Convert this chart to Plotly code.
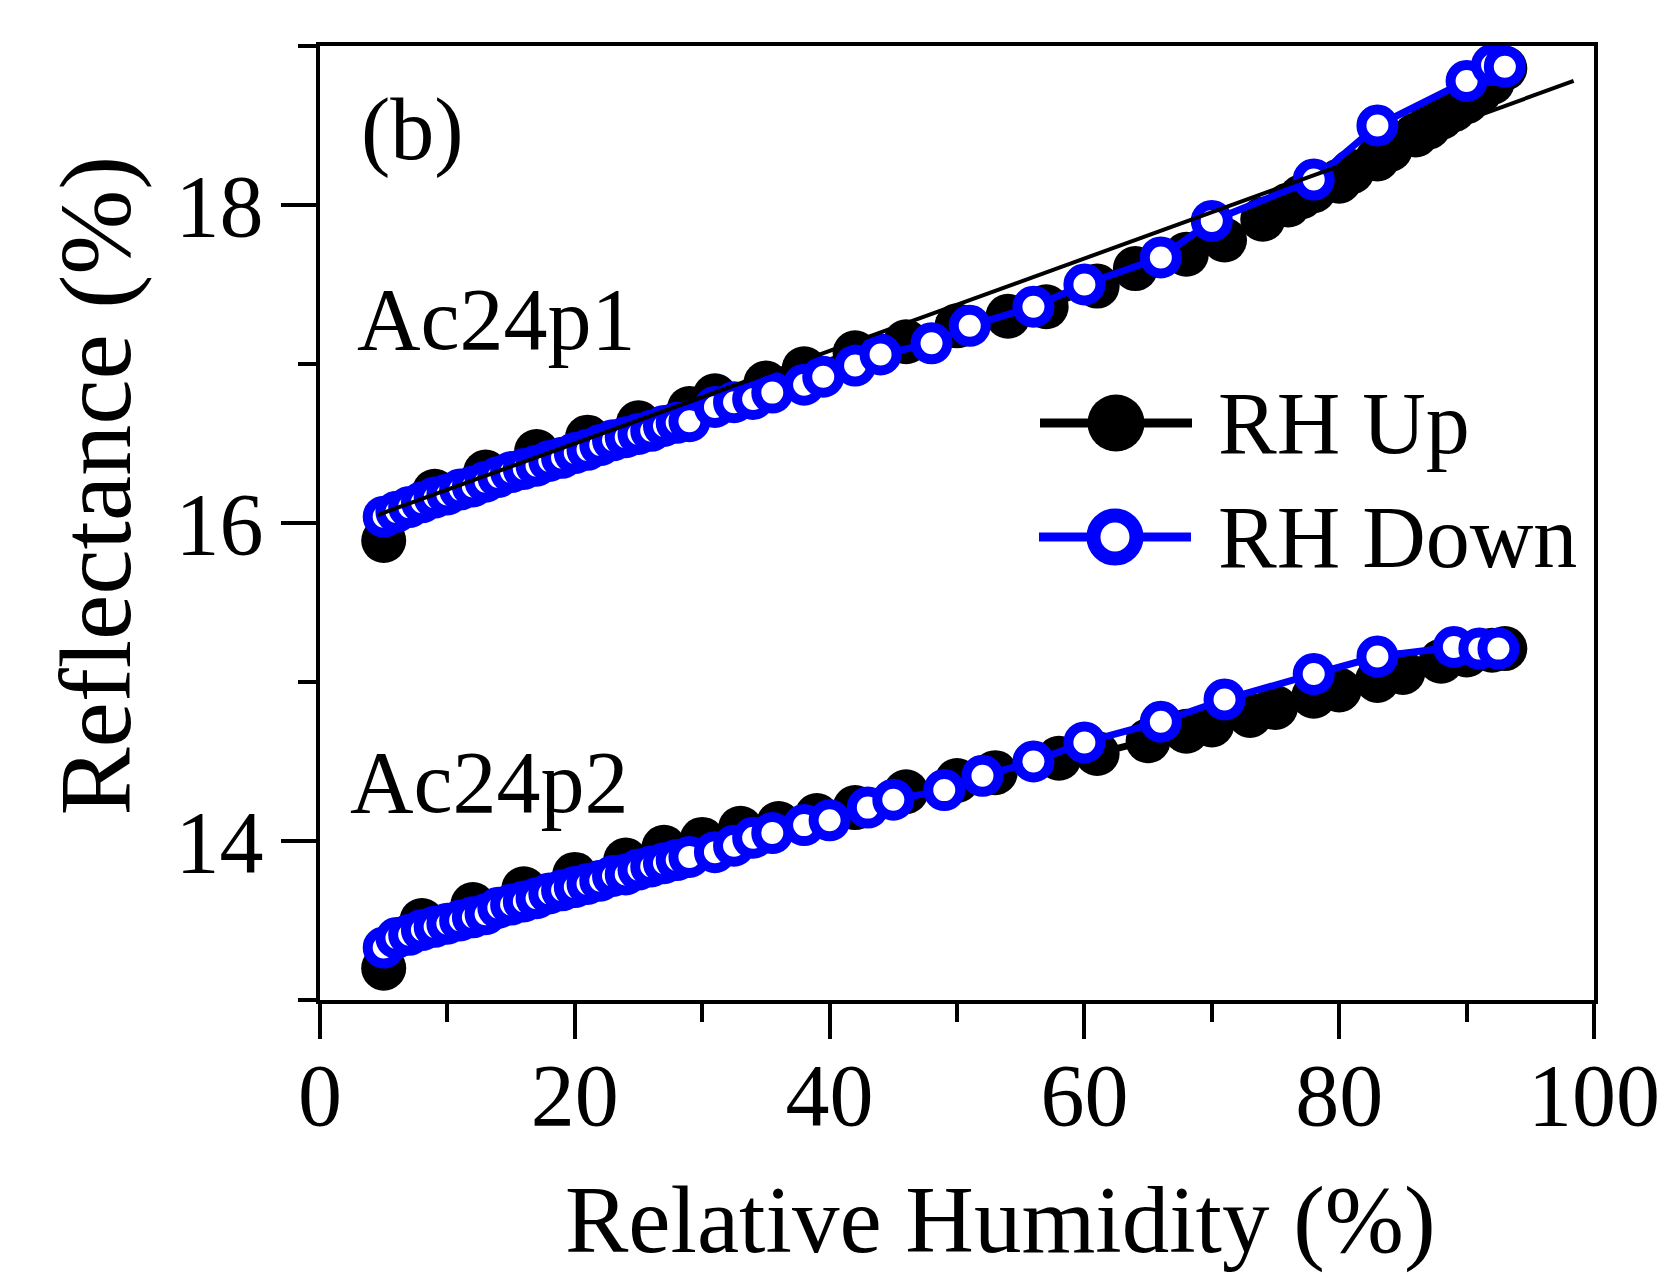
import plotly.graph_objects as go

FONT = "Liberation Serif"

# ---------------- data ----------------
rh_up_p1 = [5, 9, 13, 17, 21, 25, 29, 31, 35, 38, 42, 46, 50, 54, 57, 61, 64, 68,
            71, 74, 76, 77, 78, 80, 81, 83, 84, 86, 87, 88, 89, 90, 91, 92, 93]
refl_up_p1 = [15.89, 16.20, 16.32, 16.45, 16.54, 16.63, 16.72, 16.80, 16.88, 16.97,
              17.07, 17.14, 17.24, 17.30, 17.36, 17.49, 17.60, 17.69, 17.78, 17.91,
              18.00, 18.05, 18.09, 18.15, 18.21, 18.29, 18.35, 18.44, 18.49, 18.55,
              18.60, 18.65, 18.71, 18.77, 18.86]

rh_down_p1 = [5, 6, 7, 8, 9, 10, 11, 12, 13, 14, 15, 16, 17, 18, 19, 20, 21, 22, 23,
              24, 25, 26, 27, 28, 29, 31, 32.5, 34, 35.5, 38, 39.5, 42, 44, 48, 51,
              56, 60, 66, 70, 78, 83, 90, 92, 93]
refl_down_p1 = [16.04, 16.07, 16.10, 16.13, 16.16, 16.18, 16.21, 16.23, 16.26, 16.29,
                16.32, 16.34, 16.36, 16.39, 16.41, 16.44, 16.46, 16.49, 16.52, 16.54,
                16.56, 16.58, 16.61, 16.63, 16.64, 16.73, 16.76, 16.78, 16.82, 16.87,
                16.92, 16.99, 17.06, 17.13, 17.24, 17.36, 17.50, 17.67, 17.90, 18.16,
                18.50, 18.78, 18.88, 18.87]

rh_up_p2 = [5, 8, 12, 16, 20, 24, 27, 30, 33, 36, 39, 42, 46, 50, 53, 58, 61, 65,
            68, 70, 73, 75, 78, 80, 83, 85, 88, 90, 92, 93]
refl_up_p2 = [13.20, 13.50, 13.60, 13.70, 13.79, 13.88, 13.96, 14.01, 14.08, 14.11,
              14.16, 14.21, 14.31, 14.38, 14.43, 14.52, 14.55, 14.63, 14.69, 14.73,
              14.79, 14.84, 14.91, 14.95, 15.01, 15.06, 15.13, 15.17, 15.20, 15.21]

rh_down_p2 = [5, 6, 7, 8, 9, 10, 11, 12, 13, 14, 15, 16, 17, 18, 19, 20, 21, 22, 23,
              24, 25, 26, 27, 28, 29, 31, 32.5, 34, 35.5, 38, 40, 43, 45, 49, 52,
              56, 60, 66, 71, 78, 83, 89, 91, 92.5]
refl_down_p2 = [13.33, 13.39, 13.41, 13.44, 13.46, 13.48, 13.50, 13.52, 13.54, 13.58,
                13.60, 13.62, 13.64, 13.67, 13.69, 13.71, 13.73, 13.75, 13.78, 13.79,
                13.82, 13.84, 13.86, 13.88, 13.90, 13.93, 13.97, 14.02, 14.05, 14.10,
                14.13, 14.21, 14.26, 14.32, 14.41, 14.50, 14.62, 14.75, 14.89, 15.05,
                15.16, 15.22, 15.21, 15.21]

fit_x_p1 = [4.5, 98.4]
fit_y_p1 = [16.05, 18.78]

x_ticks = [0, 20, 40, 60, 80, 100]
y_ticks = [14, 16, 18]

series_names = ["RH Up", "RH Down"]
sample_labels = ["Ac24p1", "Ac24p2"]

BLUE = "#0000FF"

fig = go.Figure()

up_style = dict(mode="lines+markers", showlegend=False,
                line=dict(color="black", width=7),
                marker=dict(symbol="circle", size=45, color="black", line=dict(width=0)))
down_style = dict(mode="lines+markers", showlegend=False,
                  line=dict(color=BLUE, width=7),
                  marker=dict(symbol="circle", size=32, color="white",
                              line=dict(color=BLUE, width=10)))

fig.add_trace(go.Scatter(x=rh_up_p1, y=refl_up_p1, name=series_names[0], **up_style))
fig.add_trace(go.Scatter(x=rh_up_p2, y=refl_up_p2, name=series_names[0], **up_style))
fig.add_trace(go.Scatter(x=rh_down_p1, y=refl_down_p1, name=series_names[1], **down_style))
fig.add_trace(go.Scatter(x=rh_down_p2, y=refl_down_p2, name=series_names[1], **down_style))
fig.add_trace(go.Scatter(x=fit_x_p1, y=fit_y_p1, mode="lines", showlegend=False,
                         line=dict(color="black", width=4)))

axis_common = dict(showline=True, linewidth=4, linecolor="black", mirror=True,
                   ticks="outside", ticklen=35, tickwidth=4, tickcolor="black",
                   showgrid=False, zeroline=False,
                   tickfont=dict(family=FONT, size=88, color="black"))

fig.update_xaxes(range=[0, 100], tickvals=x_ticks, ticklabelstandoff=-20,
                 minor=dict(ticks="outside", ticklen=18, tickwidth=4, tickcolor="black",
                            dtick=10, tick0=0, showgrid=False),
                 **axis_common)
fig.update_yaxes(range=[13, 19], tickvals=y_ticks,
                 minor=dict(ticks="outside", ticklen=18, tickwidth=4, tickcolor="black",
                            dtick=1, tick0=13, showgrid=False),
                 **axis_common)

annotations = [
    dict(text="(b)", x=0.0306, y=0.912, xref="paper", yref="paper",
         xanchor="left", yanchor="middle", showarrow=False,
         font=dict(family=FONT, size=88, color="black")),
    dict(text=sample_labels[0], x=0.0275, y=0.713, xref="paper", yref="paper",
         xanchor="left", yanchor="middle", showarrow=False,
         font=dict(family=FONT, size=88, color="black")),
    dict(text=sample_labels[1], x=0.022, y=0.2275, xref="paper", yref="paper",
         xanchor="left", yanchor="middle", showarrow=False,
         font=dict(family=FONT, size=88, color="black")),
    dict(text="Relative Humidity (%)", x=0.5345, y=-0.231, xref="paper", yref="paper",
         xanchor="center", yanchor="middle", showarrow=False,
         font=dict(family=FONT, size=95, color="black")),
    dict(text="Reflectance (%)", x=-0.176, y=0.539, xref="paper", yref="paper",
         xanchor="center", yanchor="middle", showarrow=False, textangle=-90,
         font=dict(family=FONT, size=102, color="black")),
    dict(text=series_names[0], x=0.7033, y=0.6048, xref="paper", yref="paper",
         xanchor="left", yanchor="middle", showarrow=False,
         font=dict(family=FONT, size=88, color="black")),
    dict(text=series_names[1], x=0.7033, y=0.4853, xref="paper", yref="paper",
         xanchor="left", yanchor="middle", showarrow=False,
         font=dict(family=FONT, size=88, color="black")),
]

# custom legend glyphs (pixel-sized, anchored in paper coordinates)
def leg_line(xc, yc, color):
    return dict(type="line", xref="paper", yref="paper", xsizemode="pixel",
                ysizemode="pixel", xanchor=xc, yanchor=yc, x0=-76, x1=76, y0=0, y1=0,
                line=dict(color=color, width=9), layer="above")

def leg_circle(xc, yc, fill, color, lw, r):
    return dict(type="circle", xref="paper", yref="paper", xsizemode="pixel",
                ysizemode="pixel", xanchor=xc, yanchor=yc, x0=-r, x1=r, y0=-r, y1=r,
                fillcolor=fill, line=dict(color=color, width=lw), layer="above")

shapes = [
    leg_line(0.6248, 0.6048, "black"),
    leg_circle(0.6248, 0.6048, "black", "black", 0, 28.5),
    leg_line(0.624, 0.4853, BLUE),
    leg_circle(0.624, 0.4853, "white", BLUE, 14, 21.5),
]

fig.update_layout(
    width=1665, height=1271,
    margin=dict(l=312, r=79, t=38, b=279),
    paper_bgcolor="white", plot_bgcolor="white",
    annotations=annotations, shapes=shapes,
    showlegend=False,
    font=dict(family=FONT, color="black"),
)

fig.write_html("out.html")
